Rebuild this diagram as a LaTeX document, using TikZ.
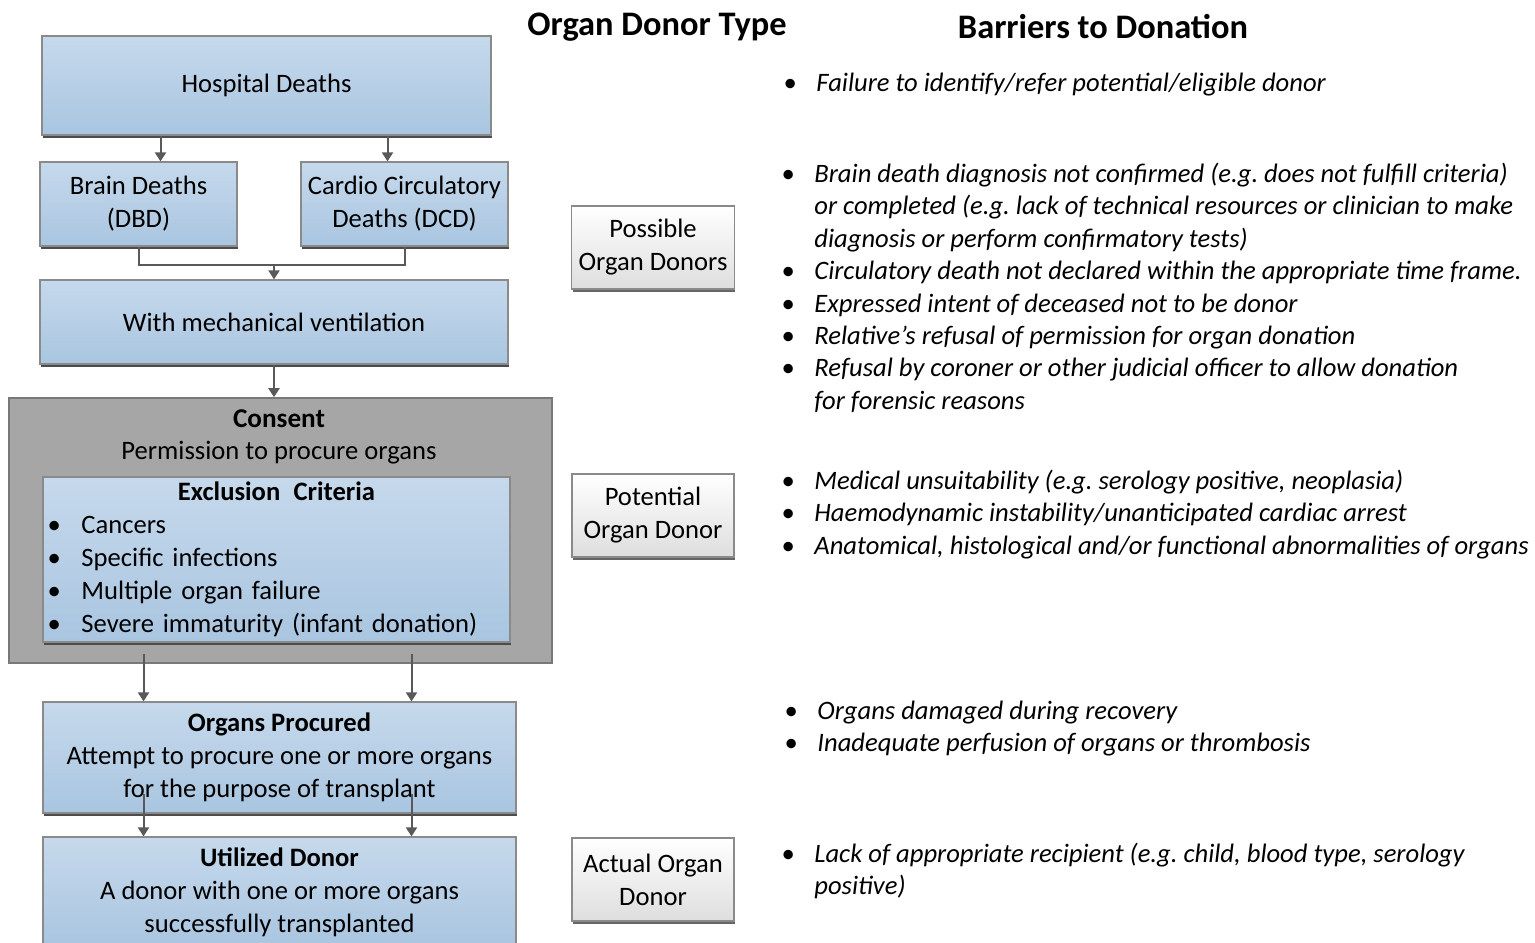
\documentclass[tikz,border=0pt]{standalone}
\usepackage{fontspec}
\setmainfont{Carlito}
\usetikzlibrary{arrows.meta,calc,shadows}

\definecolor{boxtop}{HTML}{C6D9EC}
\definecolor{boxbot}{HTML}{A9C5E0}
\definecolor{boxline}{HTML}{8A8A8A}
\definecolor{consentfill}{HTML}{A6A6A6}
\definecolor{consentline}{HTML}{787878}
\definecolor{arrowgray}{HTML}{595959}

\tikzset{
	flowbox/.style={draw=boxline, line width=0.6pt, top color=boxtop, bottom color=boxbot,
		drop shadow={shadow xshift=0.5pt, shadow yshift=-1.3pt, fill=black!70, opacity=1},
		align=center, inner sep=2pt, font=\fontsize{13.3}{16.5}\selectfont},
	typebox/.style={draw=boxline, line width=0.6pt, top color=white, bottom color=black!13,
		drop shadow={shadow xshift=0.5pt, shadow yshift=-1.3pt, fill=black!60, opacity=1},
		align=center, minimum width=81pt, minimum height=41.5pt, font=\fontsize{13.3}{16.5}\selectfont},
	headtxt/.style={font=\fontsize{17.2}{20}\selectfont\bfseries},
	barrier/.style={anchor=base west, inner sep=0pt, font=\fontsize{13.3}{16.2}\selectfont\itshape},
	arr/.style={draw=arrowgray, line width=1pt, -{Triangle[width=5.5pt,length=4.5pt]}},
}
\newcommand{\barrierlist}[1]{\begin{tabular}[t]{@{}p{16.5pt}@{}l@{}}#1\end{tabular}}
\newcommand{\exitem}{\makebox[17pt][l]{\textbullet}}

\begin{document}
\frenchspacing
\begin{tikzpicture}[x=0.5pt, y=-0.5pt]
	\useasboundingbox (0,0) rectangle (1535,942);

	\node[headtxt] (typehead) at (657,27) {Organ Donor Type};
	\node[headtxt] (barrierhead) at (1103,27) {Barriers to Donation};

	\node[flowbox, minimum width=224.5pt, minimum height=49.5pt] (hosp) at (266.5,85.5) {Hospital Deaths};
	\node[flowbox, minimum width=98.5pt, minimum height=42pt] (dbd) at (138.5,204) {Brain Deaths\\(DBD)};
	\node[flowbox, minimum width=103.5pt, minimum height=42pt] (dcd) at (404.5,204) {Cardio Circulatory\\Deaths (DCD)};
	\node[flowbox, minimum width=234pt, minimum height=42pt] (mech) at (274,322) {With mechanical ventilation};

	\node[draw=consentline, fill=consentfill, line width=0.8pt, minimum width=271.5pt, minimum height=132.5pt] (consent) at (280.5,530.5) {};
	\node[font=\fontsize{13.3}{16}\selectfont, align=center] (consenttxt) at (279,437)
		{{\fontsize{13.6}{16}\selectfont\bfseries Consent}\\Permission to procure organs};
	\node[flowbox, minimum width=233.5pt, minimum height=82.5pt, text width=229pt, align=left, inner xsep=2.25pt] (excl) at (276.5,559.5)
		{\makebox[\linewidth]{\bfseries Exclusion\enspace Criteria}\\
		\exitem Cancers\\
		\exitem Specific infections\\
		\exitem Multiple organ failure\\
		\exitem Severe immaturity (infant donation)};

	\node[flowbox, minimum width=236.5pt, minimum height=55.5pt] (proc) at (279.5,757.5)
		{\textbf{Organs Procured}\\Attempt to procure one or more organs\\for the purpose of transplant};
	\node[flowbox, minimum width=236.5pt, minimum height=55pt] (util) at (279.5,892)
		{\textbf{Utilized Donor}\\A donor with one or more organs\\successfully transplanted};

	\draw[arr] ($(hosp.south)+(-106,0)$) -- ($(hosp.south |- dbd.north)+(-106,0)$);
	\draw[arr] ($(hosp.south)+(121,0)$) -- ($(hosp.south |- dcd.north)+(121,0)$);
	\coordinate (join) at (274,265);
	\draw[draw=arrowgray, line width=1pt] (dbd.south) |- (join) -| (dcd.south);
	\draw[arr] (join) -- (mech.north);
	\draw[arr] (mech.south) -- (mech.south |- consent.north);
	\foreach \dx in {-136,132}
	  {
	      \draw[arr] ($(proc.north |- consent.south)+(\dx,-10)$) -- ($(proc.north)+(\dx,0)$);
	      \draw[arr] ($(proc.south)+(\dx,-20)$) -- ($(util.north)+(\dx,0)$);
	  }

	\foreach \name/\y/\txt in {possible/247.5/{Possible\\Organ Donors}, potential/515.5/{Potential\\Organ Donor}, actual/879.5/{Actual Organ\\Donor}}
	  {
	      \node[typebox] (\name) at (653,\y) {\txt};
	  }

	\node[barrier] (bar1) at (783,91.5) {\barrierlist{\textbullet & Failure to identify/refer potential/eligible donor}};
	\node[barrier] (bar2) at (781,182.5) {\barrierlist{%
		\textbullet & Brain death diagnosis not confirmed (e.g. does not fulfill criteria)\\
		& or completed (e.g. lack of technical resources or clinician to make\\
		& diagnosis or perform confirmatory tests)\\
		\textbullet & Circulatory death not declared within the appropriate time frame.\\
		\textbullet & Expressed intent of deceased not to be donor\\
		\textbullet & Relative’s refusal of permission for organ donation\\
		\textbullet & Refusal by coroner or other judicial officer to allow donation\\
		& for forensic reasons}};
	\node[barrier] (bar3) at (781,489.5) {\barrierlist{%
		\textbullet & Medical unsuitability (e.g. serology positive, neoplasia)\\
		\textbullet & Haemodynamic instability/unanticipated cardiac arrest\\
		\textbullet & Anatomical, histological and/or functional abnormalities of organs}};
	\node[barrier] (bar4) at (784,719.5) {\barrierlist{%
		\textbullet & Organs damaged during recovery\\
		\textbullet & Inadequate perfusion of organs or thrombosis}};
	\node[barrier] (bar5) at (781,862.5) {\barrierlist{%
		\textbullet & Lack of appropriate recipient (e.g. child, blood type, serology\\
		& positive)}};
\end{tikzpicture}
\end{document}
